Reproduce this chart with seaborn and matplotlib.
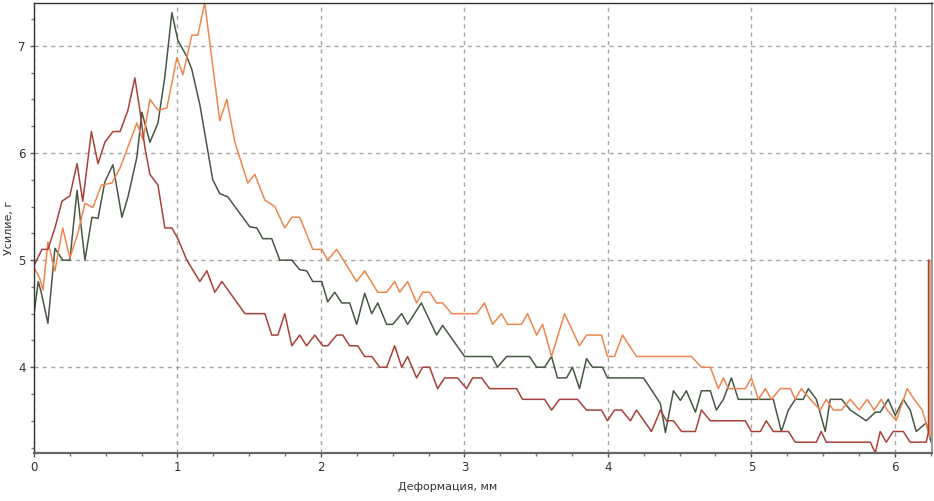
import numpy as np
import pandas as pd
import matplotlib
matplotlib.use("Agg")
import matplotlib.pyplot as plt
from matplotlib.ticker import MultipleLocator
import seaborn as sns

sns.set_style("white")
plt.rcParams['font.family'] = ['DejaVu Sans']

# force curves: (deformation mm, force g)
red_pts = [
    (0, 4.95), (0.056, 5.1), (0.097, 5.1), (0.146, 5.3), (0.195, 5.55), (0.25, 5.6),
    (0.30, 5.9), (0.34, 5.55), (0.40, 6.2), (0.446, 5.9), (0.494, 6.1), (0.55, 6.2),
    (0.60, 6.2), (0.655, 6.4), (0.703, 6.7), (0.738, 6.4), (0.773, 6.05), (0.808, 5.8),
    (0.864, 5.7), (0.912, 5.3), (0.961, 5.3), (1.003, 5.2), (1.065, 5.0), (1.156, 4.8),
    (1.205, 4.9), (1.26, 4.7), (1.31, 4.8), (1.47, 4.5), (1.609, 4.5), (1.657, 4.3),
    (1.70, 4.3), (1.748, 4.5), (1.797, 4.2), (1.852, 4.3), (1.90, 4.2), (1.957, 4.3),
    (2.013, 4.2), (2.047, 4.2), (2.11, 4.3), (2.152, 4.3), (2.20, 4.2), (2.256, 4.2),
    (2.305, 4.1), (2.354, 4.1), (2.41, 4.0), (2.458, 4.0), (2.514, 4.2), (2.563, 4.0),
    (2.604, 4.1), (2.667, 3.9), (2.709, 4.0), (2.758, 4.0), (2.813, 3.8), (2.862, 3.9),
    (2.953, 3.9), (3.015, 3.8), (3.057, 3.9), (3.12, 3.9), (3.175, 3.8), (3.364, 3.8),
    (3.405, 3.7), (3.559, 3.7), (3.607, 3.6), (3.663, 3.7), (3.788, 3.7), (3.851, 3.6),
    (3.955, 3.6), (3.997, 3.5), (4.046, 3.6), (4.095, 3.6), (4.157, 3.5), (4.199, 3.6),
    (4.304, 3.4), (4.366, 3.6), (4.408, 3.5), (4.457, 3.5), (4.513, 3.4), (4.61, 3.4),
    (4.652, 3.6), (4.714, 3.5), (4.958, 3.5), (5.0, 3.4), (5.063, 3.4), (5.104, 3.5),
    (5.153, 3.4), (5.258, 3.4), (5.306, 3.3), (5.453, 3.3), (5.487, 3.4), (5.522, 3.3),
    (5.829, 3.3), (5.864, 3.2), (5.898, 3.4), (5.94, 3.3), (5.989, 3.4), (6.059, 3.4),
    (6.107, 3.3), (6.219, 3.3), (6.235, 3.4), (6.235, 5.0),
]

orange_pts = [
    (0, 4.93), (0.04, 4.83), (0.063, 4.72), (0.097, 5.17), (0.146, 4.9), (0.20, 5.3),
    (0.25, 5.02), (0.306, 5.25), (0.355, 5.53), (0.41, 5.49), (0.47, 5.7), (0.543, 5.72),
    (0.60, 5.86), (0.717, 6.28), (0.76, 6.12), (0.808, 6.5), (0.864, 6.4), (0.926, 6.42),
    (0.996, 6.89), (1.038, 6.73), (1.10, 7.1), (1.142, 7.1), (1.19, 7.4), (1.295, 6.3),
    (1.344, 6.5), (1.40, 6.1), (1.49, 5.72), (1.539, 5.8), (1.609, 5.56), (1.678, 5.5),
    (1.748, 5.3), (1.797, 5.4), (1.852, 5.4), (1.943, 5.1), (2.006, 5.1), (2.047, 5.0),
    (2.11, 5.1), (2.249, 4.8), (2.305, 4.9), (2.396, 4.7), (2.458, 4.7), (2.514, 4.8),
    (2.549, 4.7), (2.604, 4.8), (2.667, 4.6), (2.709, 4.7), (2.758, 4.7), (2.806, 4.6),
    (2.848, 4.6), (2.911, 4.5), (3.085, 4.5), (3.14, 4.6), (3.196, 4.4), (3.259, 4.5),
    (3.30, 4.4), (3.398, 4.4), (3.44, 4.5), (3.503, 4.3), (3.545, 4.4), (3.607, 4.1),
    (3.698, 4.5), (3.802, 4.2), (3.851, 4.3), (3.955, 4.3), (3.997, 4.1), (4.046, 4.1),
    (4.102, 4.3), (4.199, 4.1), (4.582, 4.1), (4.652, 4.0), (4.714, 4.0), (4.77, 3.8),
    (4.805, 3.9), (4.84, 3.8), (4.958, 3.8), (5.0, 3.9), (5.049, 3.7), (5.098, 3.8),
    (5.139, 3.7), (5.202, 3.8), (5.272, 3.8), (5.306, 3.7), (5.348, 3.8), (5.411, 3.7),
    (5.48, 3.6), (5.522, 3.7), (5.571, 3.6), (5.627, 3.6), (5.69, 3.7), (5.752, 3.6),
    (5.808, 3.7), (5.856, 3.6), (5.905, 3.7), (5.947, 3.6), (6.01, 3.5), (6.086, 3.8),
    (6.135, 3.7), (6.191, 3.6), (6.245, 3.35), (6.245, 5.0),
]

green_pts = [
    (0, 4.5), (0.03, 4.8), (0.05, 4.7), (0.097, 4.41), (0.146, 5.11), (0.20, 5.0),
    (0.25, 5.0), (0.30, 5.65), (0.355, 5.0), (0.404, 5.4), (0.446, 5.39), (0.494, 5.73),
    (0.55, 5.89), (0.613, 5.4), (0.655, 5.59), (0.717, 5.96), (0.752, 6.38), (0.808, 6.1),
    (0.864, 6.28), (0.912, 6.71), (0.961, 7.31), (1.003, 7.05), (1.065, 6.9), (1.10, 6.78),
    (1.156, 6.45), (1.246, 5.75), (1.295, 5.62), (1.351, 5.59), (1.40, 5.5), (1.504, 5.31),
    (1.553, 5.3), (1.595, 5.2), (1.657, 5.2), (1.713, 5.0), (1.797, 5.0), (1.852, 4.91),
    (1.90, 4.9), (1.943, 4.8), (2.006, 4.8), (2.047, 4.61), (2.096, 4.7), (2.145, 4.6),
    (2.20, 4.6), (2.249, 4.4), (2.305, 4.69), (2.354, 4.5), (2.396, 4.6), (2.458, 4.4),
    (2.50, 4.4), (2.563, 4.5), (2.604, 4.4), (2.70, 4.6), (2.806, 4.3), (2.848, 4.39),
    (3.001, 4.1), (3.19, 4.1), (3.231, 4.0), (3.294, 4.1), (3.454, 4.1), (3.503, 4.0),
    (3.559, 4.0), (3.607, 4.1), (3.649, 3.9), (3.712, 3.9), (3.753, 4.0), (3.802, 3.8),
    (3.851, 4.08), (3.893, 4.0), (3.962, 4.0), (3.997, 3.9), (4.248, 3.9), (4.318, 3.76),
    (4.366, 3.66), (4.401, 3.39), (4.457, 3.78), (4.505, 3.69), (4.547, 3.78), (4.61, 3.58),
    (4.652, 3.78), (4.714, 3.78), (4.756, 3.6), (4.805, 3.7), (4.861, 3.9), (4.909, 3.7),
    (5.153, 3.7), (5.209, 3.4), (5.258, 3.6), (5.306, 3.7), (5.362, 3.7), (5.397, 3.8),
    (5.453, 3.7), (5.515, 3.4), (5.55, 3.7), (5.63, 3.7), (5.69, 3.6), (5.801, 3.5),
    (5.864, 3.58), (5.898, 3.58), (5.954, 3.7), (6.003, 3.55), (6.059, 3.7), (6.107, 3.6),
    (6.149, 3.4), (6.219, 3.48), (6.253, 3.3),
]

series = {"green": green_pts, "orange": orange_pts, "red": red_pts}
palette = {"red": "#a8413a", "orange": "#ee8650", "green": "#485744"}

frames = []
for name, pts in series.items():
    d = pd.DataFrame(pts, columns=["x", "y"])
    d["curve"] = name
    frames.append(d)
df = pd.concat(frames, ignore_index=True)

fig = plt.figure(figsize=(9.34, 5.01), dpi=100)
ax = fig.add_axes([0.0364, 0.096, 0.9616, 0.898])

for name in ["green", "orange", "red"]:
    sub = df[df.curve == name]
    sns.lineplot(data=sub, x="x", y="y", sort=False, estimator=None,
                 color=palette[name], lw=1.1, ax=ax, legend=False)

ax.set_xlim(0, 6.26)
ax.set_ylim(3.2, 7.4)
ax.xaxis.set_major_locator(MultipleLocator(1))
ax.xaxis.set_minor_locator(MultipleLocator(0.25))
ax.yaxis.set_major_locator(MultipleLocator(1))
ax.yaxis.set_minor_locator(MultipleLocator(0.25))

ax.grid(True, which="major", color="#a6a6a6", linestyle=(0, (3, 3)), lw=1)
ax.tick_params(which="major", direction="out", length=3, width=1, color="#555555",
               labelsize=8.5, labelcolor="#333333", pad=3, left=True, bottom=True)
ax.tick_params(which="minor", direction="out", length=2, width=1, color="#777777",
               left=True, bottom=True)

for side in ["left", "top"]:
    ax.spines[side].set_color("#333333")
    ax.spines[side].set_linewidth(1)
ax.spines["bottom"].set_color("#666666")
ax.spines["bottom"].set_linewidth(1.6)
ax.spines["right"].set_color("#999999")
ax.spines["right"].set_linewidth(1.4)

ax.set_xlabel("Деформация, мм", fontsize=8, color="#333333")
ax.set_ylabel("Усилие, г", fontsize=8, color="#333333")
ax.xaxis.set_label_coords(0.461, -0.065)
ax.yaxis.set_label_coords(-0.022, 0.5)

fig.savefig("out.png", dpi=100)
